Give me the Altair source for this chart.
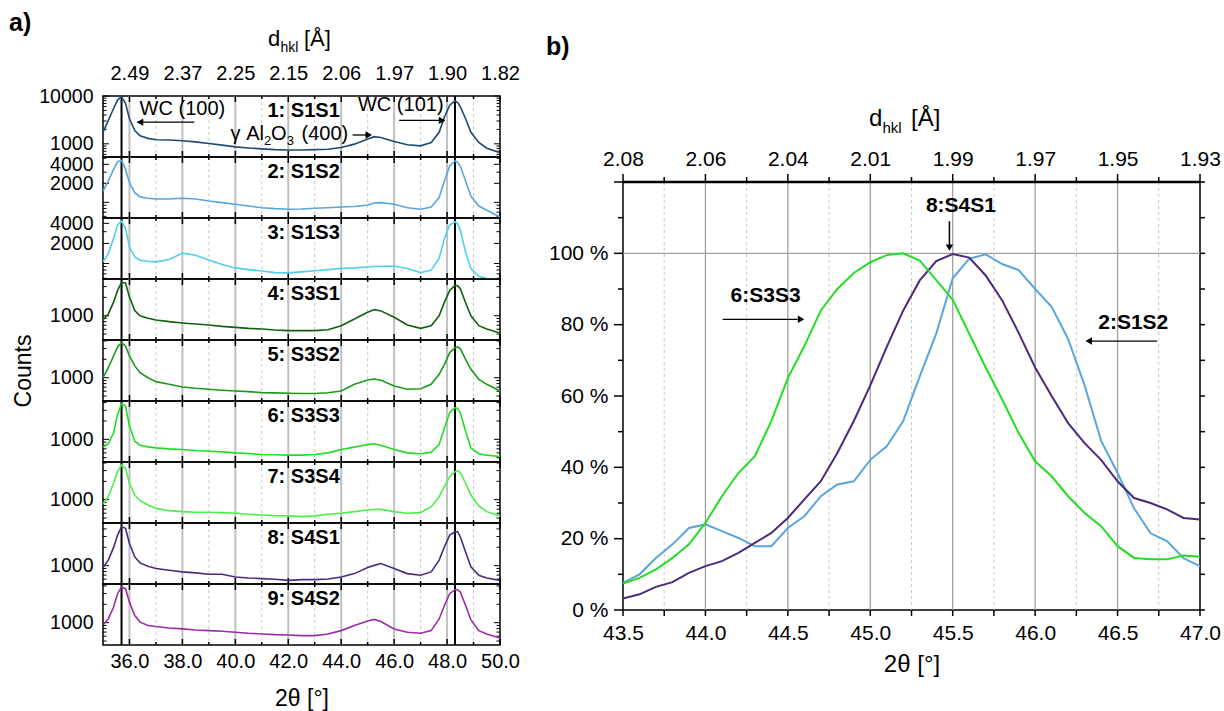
import altair as alt
import pandas as pd

FONT = "Liberation Sans"

# ---------------- panel a: nine stacked diffractograms ----------------
TWO_THETA_A = [35.0, 35.2, 35.4, 35.55, 35.7, 35.85, 36.0, 36.2, 36.4, 36.7,
               37.0, 37.5, 38.0, 38.5, 39.0, 39.5, 40.0, 40.5, 41.0, 41.5,
               42.0, 42.5, 43.0, 43.5, 44.0, 44.5, 45.0, 45.25, 45.5, 46.0,
               46.5, 47.0, 47.4, 47.7, 47.9, 48.1, 48.3, 48.4, 48.5, 48.7,
               48.9, 49.2, 49.5, 50.0]

S1S1 = [1740, 3090, 5470, 8220, 9660, 7000, 3350, 1890, 1480, 1300,
        1220, 1200, 1160, 1100, 1015, 940, 863, 820, 783, 757,
        745, 745, 757, 770, 835, 985, 1260, 1410, 1360, 1120,
        953, 906, 1065, 1740, 3630, 6430, 7940, 7300, 6000, 3350,
        1740, 1065, 810, 653]
S1S2 = [1510, 2170, 3330, 4400, 4600, 3330, 2050, 1420, 1220, 1160,
        1130, 1130, 1160, 1130, 1050, 990, 930, 875, 823, 794,
        776, 785, 805, 823, 844, 860, 907, 975, 990, 930,
        823, 776, 844, 1190, 2170, 3760, 4510, 4300, 3760, 2170,
        1260, 875, 748, 587]
S1S3 = [1060, 1410, 2380, 3770, 4330, 3360, 1780, 1260, 1120, 1080,
        1060, 1150, 1430, 1330, 1130, 966, 859, 811, 774, 731,
        724, 750, 780, 811, 840, 859, 889, 900, 905, 920,
        840, 731, 795, 1190, 2380, 3770, 4230, 3900, 3170, 1490,
        840, 643, 594, 590]
S3S1 = [864, 1070, 1670, 2600, 3500, 3450, 2020, 1220, 1000, 908,
        853, 800, 762, 733, 705, 670, 645, 621, 605, 583,
        569, 569, 569, 590, 687, 885, 1140, 1260, 1200, 944,
        705, 621, 687, 1000, 1670, 2600, 3150, 3100, 2770, 1630,
        1000, 687, 605, 520]
S3S2 = [1000, 1460, 2270, 3190, 3750, 3310, 2270, 1560, 1210, 1000,
        862, 779, 705, 670, 645, 622, 606, 591, 570, 565,
        555, 550, 550, 565, 606, 779, 917, 953, 907, 732,
        645, 660, 779, 1135, 1660, 2580, 3110, 3190, 3000, 2000,
        1370, 940, 779, 606]
S3S3 = [745, 846, 1280, 2560, 3840, 3510, 1650, 932, 800, 752,
        724, 697, 680, 655, 639, 623, 600, 585, 564, 558,
        550, 550, 564, 600, 680, 745, 820, 846, 800, 680,
        600, 581, 613, 820, 1540, 2730, 3300, 3220, 2730, 1360,
        724, 581, 550, 523]
S3S4 = [851, 1120, 1860, 2880, 3710, 3270, 1860, 1190, 962, 817,
        721, 661, 637, 621, 621, 613, 598, 576, 562, 548,
        543, 528, 543, 576, 598, 637, 678, 690, 695, 637,
        598, 613, 770, 1120, 1640, 2390, 2880, 3000, 2780, 1860,
        1190, 790, 637, 543]
S4S1 = [929, 1230, 1990, 3170, 4350, 4080, 2310, 1390, 1110, 978,
        895, 840, 789, 760, 722, 722, 652, 628, 613, 597,
        574, 590, 590, 605, 652, 740, 929, 1010, 1080, 895,
        740, 695, 789, 1230, 2040, 3170, 3600, 3600, 2980, 1680,
        955, 695, 628, 574]
S4S2 = [929, 1150, 1800, 2980, 3840, 3600, 2170, 1310, 1020, 897,
        862, 819, 789, 759, 740, 721, 695, 669, 652, 636,
        628, 613, 613, 652, 740, 897, 1060, 1130, 1040, 789,
        695, 669, 740, 1150, 1910, 2980, 3470, 3470, 3170, 1910,
        1110, 740, 652, 560]

SERIES_A = [S1S1, S1S2, S1S3, S3S1, S3S2, S3S3, S3S4, S4S1, S4S2]
LABELS_A = ["1: S1S1", "2: S1S2", "3: S1S3", "4: S3S1", "5: S3S2",
            "6: S3S3", "7: S3S4", "8: S4S1", "9: S4S2"]
COLORS_A = ["#1f4a72", "#5aa6dc", "#4fd0ea", "#0e620e", "#1c9a1c",
            "#22dd22", "#4cf04c", "#4b2a7e", "#9a2ca8"]
Y_DOMAINS_A = [[530, 10000], [565, 5220], [586, 4810], [400, 4000], [415, 4150],
               [425, 4250], [415, 4150], [500, 5000], [430, 4300]]
Y_LABELS_A = [[1000, 10000], [2000, 4000], [2000, 4000], [1000], [1000],
              [1000], [1000], [1000], [1000]]

X_TICKS_A = [36, 38, 40, 42, 44, 46, 48, 50]
D_LABELS_A = ["2.49", "2.37", "2.25", "2.15", "2.06", "1.97", "1.90", "1.82"]
GRID_MAJOR_A = [36, 38, 40, 42, 44, 46, 48]
GRID_MINOR_A = [37, 39, 41, 43, 45, 47, 49]
WC_PEAKS = [35.7, 48.3]
ROW_LABEL_X = 42.58

W_A = 397
H_A = 61


def label_lookup(values, labels):
    vals = ",".join(str(v) for v in values)
    labs = ",".join("'" + s + "'" for s in labels)
    return "[" + labs + "][indexof([" + vals + "], datum.value)]"


def log_ticks(lo, hi):
    return [m * 10 ** e for e in (2, 3, 4) for m in range(1, 10) if lo <= m * 10 ** e <= hi]


class Enc:
    """Position encodings of one view; every layer reuses the same axis objects."""

    def __init__(self, xs, ys, x_axis, y_axis):
        self.xs, self.ys, self.x_axis, self.y_axis = xs, ys, x_axis, y_axis

    def x(self, name, axis="same"):
        return alt.X(name + ":Q", scale=self.xs, axis=self.x_axis if axis == "same" else axis)

    def y(self, name):
        return alt.Y(name + ":Q", scale=self.ys, axis=self.y_axis)


def arrow(enc, x0, x1, y, shape, head_x):
    seg = alt.Chart(pd.DataFrame({"a": [x0], "b": [x1], "y": [y]})).mark_rule(
        color="black", strokeWidth=1.3
    ).encode(x=enc.x("a"), x2="b:Q", y=enc.y("y"))
    head = alt.Chart(pd.DataFrame({"a": [head_x], "y": [y]})).mark_point(
        shape=shape, filled=True, size=55, color="black", opacity=1
    ).encode(x=enc.x("a"), y=enc.y("y"))
    return [seg, head]


def text_at(enc, tt, yv, txt, size, bold=False, align="center", dy=0):
    return alt.Chart(pd.DataFrame({"a": [tt], "y": [yv], "t": [txt]})).mark_text(
        font=FONT, fontSize=size, fontWeight="bold" if bold else "normal",
        align=align, dy=dy, color="black"
    ).encode(x=enc.x("a"), y=enc.y("y"), text="t:N")


def pixel_text(txt, px, py, size, bold=False):
    return alt.Chart(pd.DataFrame({"t": [txt]})).mark_text(
        font=FONT, fontSize=size, fontWeight="bold" if bold else "normal",
        align="left", color="black"
    ).encode(x=alt.value(px), y=alt.value(py), text="t:N")


def row_panel(i):
    lo, hi = Y_DOMAINS_A[i]
    xs = alt.Scale(domain=[35, 50], nice=False, zero=False)
    ys = alt.Scale(type="log", domain=[lo, hi], nice=False)

    common = dict(ticks=False, tickSize=0, domain=False, grid=False,
                  labelOverlap=False, labelFlush=False)
    if i == 0:
        x_axis = alt.Axis(orient="top", values=X_TICKS_A,
                          labelExpr=label_lookup(X_TICKS_A, D_LABELS_A),
                          labelFontSize=20, labelPadding=13, title=None, **common)
    elif i == 8:
        x_axis = alt.Axis(orient="bottom", values=X_TICKS_A, format=".1f",
                          labelFontSize=20, labelPadding=6, title="2θ [°]",
                          titleFontSize=23, titlePadding=16, **common)
    else:
        x_axis = None

    y_axis = alt.Axis(values=Y_LABELS_A[i], format="d", labelFontSize=19.5, labelPadding=10,
                      title="Counts" if i == 4 else None,
                      titleFontSize=23, titlePadding=14, **common)
    enc = Enc(xs, ys, x_axis, y_axis)

    layers = []
    layers.append(alt.Chart(pd.DataFrame({"tt": GRID_MINOR_A})).mark_rule(
        color="#c8c8c8", strokeWidth=1, strokeDash=[3, 3]).encode(x=enc.x("tt")))
    layers.append(alt.Chart(pd.DataFrame({"tt": GRID_MAJOR_A})).mark_rule(
        color="#c0c0c0", strokeWidth=2).encode(x=enc.x("tt")))
    layers.append(alt.Chart(pd.DataFrame({"tt": WC_PEAKS})).mark_rule(
        color="black", strokeWidth=2).encode(x=enc.x("tt")))

    # inward ticks on the top and bottom frame lines
    major = pd.DataFrame({"tt": X_TICKS_A})
    minor = pd.DataFrame({"tt": GRID_MINOR_A})
    for df, ln in ((major, 6), (minor, 3)):
        layers.append(alt.Chart(df).mark_rule(color="black", strokeWidth=1.5).encode(
            x=enc.x("tt"), y=alt.value(0), y2=alt.value(ln)))
        layers.append(alt.Chart(df).mark_rule(color="black", strokeWidth=1.5).encode(
            x=enc.x("tt"), y=alt.value(H_A - ln), y2=alt.value(H_A)))

    # inward log ticks on both side frame lines
    yt = log_ticks(lo, hi)
    ymajor = [v for v in yt if v in Y_LABELS_A[i] or v in (1000, 10000)]
    yminor = [v for v in yt if v not in ymajor]
    for vals, ln in ((ymajor, 6), (yminor, 3.5)):
        if not vals:
            continue
        df = pd.DataFrame({"v": vals})
        layers.append(alt.Chart(df).mark_rule(color="black", strokeWidth=1).encode(
            y=enc.y("v"), x=alt.value(0), x2=alt.value(ln)))
        layers.append(alt.Chart(df).mark_rule(color="black", strokeWidth=1).encode(
            y=enc.y("v"), x=alt.value(W_A - ln), x2=alt.value(W_A)))

    curve = pd.DataFrame({"tt": TWO_THETA_A, "counts": SERIES_A[i]})
    layers.append(alt.Chart(curve).mark_line(
        color=COLORS_A[i], strokeWidth=1.6, clip=True
    ).encode(x=enc.x("tt"), y=enc.y("counts")))

    layers.append(alt.Chart(pd.DataFrame({"tt": [ROW_LABEL_X], "t": [LABELS_A[i]]})).mark_text(
        font=FONT, fontSize=20, fontWeight="bold", color="black"
    ).encode(x=enc.x("tt"), y=alt.value(15), text="t:N"))

    if i == 0:
        layers.append(text_at(enc, 38.0, 5470, "WC (100)", 20))
        layers += arrow(enc, 38.45, 36.3, 2840, "triangle-left", 36.4)
        layers.append(text_at(enc, 46.25, 6430, "WC (101)", 20))
        layers += arrow(enc, 46.19, 47.9, 3090, "triangle-right", 47.81)
        layers.append(text_at(enc, 39.82, 1607, "γ Al", 20, align="left"))
        layers.append(text_at(enc, 41.08, 1607, "2", 13, align="left", dy=7))
        layers.append(text_at(enc, 41.35, 1607, "O", 20, align="left"))
        layers.append(text_at(enc, 41.94, 1607, "3", 13, align="left", dy=7))
        layers.append(text_at(enc, 42.5, 1607, "(400)", 20, align="left"))
        layers += arrow(enc, 44.43, 45.1, 1530, "triangle-right", 45.04)
        layers.append(pixel_text("a)", -94, -73, 25, bold=True))
        layers.append(pixel_text("d", 165, -57, 22))
        layers.append(pixel_text("hkl", 177.5, -48, 14))
        layers.append(pixel_text("[Å]", 201, -57, 22))

    return alt.layer(*layers).properties(width=W_A, height=H_A)


rows = [row_panel(i) for i in range(9)]
panel_a = alt.vconcat(*rows, spacing=0, bounds="flush")

# ---------------- panel b: normalised γ-Al2O3 (400) reflection ----------------
TWO_THETA_B = [43.5, 43.6, 43.7, 43.8, 43.9, 44.0, 44.1, 44.2, 44.3, 44.4,
               44.5, 44.6, 44.7, 44.8, 44.9, 45.0, 45.1, 45.2, 45.3, 45.4,
               45.5, 45.6, 45.7, 45.8, 45.9, 46.0, 46.1, 46.2, 46.3, 46.4,
               46.5, 46.6, 46.7, 46.8, 46.9, 47.0]
S3S3_PCT = [7.4, 9.0, 11.4, 14.6, 18.4, 24.4, 31.9, 38.4, 43.1, 53.0,
            65.0, 74.0, 84.0, 90.0, 94.5, 97.5, 99.5, 100.0, 98.0, 92.5,
            87.0, 77.5, 68.0, 59.0, 49.6, 41.7, 37.5, 31.9, 27.2, 23.5,
            17.9, 14.6, 14.2, 14.2, 15.3, 14.9]
S4S1_PCT = [3.2, 4.4, 6.5, 7.8, 10.4, 12.3, 13.7, 16.0, 18.8, 21.6,
            25.8, 31.0, 36.1, 44.0, 53.0, 63.0, 73.8, 84.0, 92.4, 97.8,
            99.8, 98.8, 93.8, 86.8, 77.7, 68.0, 60.0, 52.4, 46.8, 42.1,
            36.1, 31.4, 30.0, 28.2, 25.8, 25.4]
S1S2_PCT = [7.6, 10.0, 14.6, 18.4, 23.0, 24.0, 22.1, 20.2, 17.9, 17.9,
            23.0, 26.3, 31.9, 35.2, 36.1, 42.1, 45.9, 53.0, 65.5, 77.5,
            93.0, 98.5, 99.7, 97.0, 95.3, 90.0, 85.0, 76.0, 63.0, 47.5,
            38.4, 28.5, 21.5, 19.3, 14.5, 12.3]

SERIES_B = [S1S2_PCT, S4S1_PCT, S3S3_PCT]
COLORS_B = ["#5aa6dc", "#4b2a7e", "#22dd22"]

X_TICKS_B = [43.5, 44.0, 44.5, 45.0, 45.5, 46.0, 46.5, 47.0]
X_MINOR_B = [43.75, 44.25, 44.75, 45.25, 45.75, 46.25, 46.75]
D_LABELS_B = ["2.08", "2.06", "2.04", "2.01", "1.99", "1.97", "1.95", "1.93"]
GRID_MAJOR_B = [44.0, 44.5, 45.0, 45.5, 46.0, 46.5]
Y_TICKS_B = [0, 20, 40, 60, 80, 100]
Y_ALL_MAJOR_B = [0, 20, 40, 60, 80, 100, 120]
Y_MINOR_B = [10, 30, 50, 70, 90, 110]

W_B = 577
H_B = 428

xs_b = alt.Scale(domain=[43.5, 47.0], nice=False, zero=False)
ys_b = alt.Scale(domain=[0, 120], nice=False, zero=True)

common_b = dict(ticks=False, tickSize=0, domain=False, grid=False,
                labelFontSize=21, labelOverlap=False, labelFlush=False)
bottom_axis_b = alt.Axis(values=X_TICKS_B, format=".1f", labelPadding=12,
                         title="2θ [°]", titleFontSize=24, titlePadding=9, **common_b)
top_axis_b = alt.Axis(orient="top", values=X_TICKS_B,
                      labelExpr=label_lookup(X_TICKS_B, D_LABELS_B),
                      labelPadding=13, title=None, **common_b)
left_axis_b = alt.Axis(values=Y_TICKS_B, labelExpr="datum.value + ' %'",
                       labelPadding=15, title=None, **common_b)

# x axes are resolved independently (top and bottom); only two layers carry one
enc_b = Enc(xs_b, ys_b, None, left_axis_b)

b_layers = []
b_layers.append(alt.Chart(pd.DataFrame({"tt": X_MINOR_B})).mark_rule(
    color="#c8c8c8", strokeWidth=1, strokeDash=[3, 3]).encode(x=enc_b.x("tt")))
b_layers.append(alt.Chart(pd.DataFrame({"tt": GRID_MAJOR_B})).mark_rule(
    color="#a0a0a0", strokeWidth=1.3).encode(x=enc_b.x("tt")))
b_layers.append(alt.Chart(pd.DataFrame({"v": [100]})).mark_rule(
    color="#a0a0a0", strokeWidth=1.3).encode(y=enc_b.y("v")))

# outward ticks around the frame
b_layers.append(alt.Chart(pd.DataFrame({"tt": X_TICKS_B})).mark_rule(
    color="black", strokeWidth=1.5).encode(x=enc_b.x("tt", top_axis_b), y=alt.value(-8), y2=alt.value(0)))
b_layers.append(alt.Chart(pd.DataFrame({"tt": X_MINOR_B})).mark_rule(
    color="black", strokeWidth=1.5).encode(x=enc_b.x("tt"), y=alt.value(-5), y2=alt.value(0)))
b_layers.append(alt.Chart(pd.DataFrame({"tt": X_TICKS_B + X_MINOR_B})).mark_rule(
    color="black", strokeWidth=1.5).encode(x=enc_b.x("tt"), y=alt.value(H_B), y2=alt.value(H_B + 6)))
b_layers.append(alt.Chart(pd.DataFrame({"v": Y_ALL_MAJOR_B})).mark_rule(
    color="black", strokeWidth=1.5).encode(y=enc_b.y("v"), x=alt.value(-9), x2=alt.value(0)))
b_layers.append(alt.Chart(pd.DataFrame({"v": Y_MINOR_B})).mark_rule(
    color="black", strokeWidth=1.5).encode(y=enc_b.y("v"), x=alt.value(-5), x2=alt.value(0)))
b_layers.append(alt.Chart(pd.DataFrame({"v": Y_ALL_MAJOR_B + Y_MINOR_B})).mark_rule(
    color="black", strokeWidth=1.5).encode(y=enc_b.y("v"), x=alt.value(W_B), x2=alt.value(W_B + 5)))
# heavier top frame line
b_layers.append(alt.Chart(pd.DataFrame({"v": [120]})).mark_rule(
    color="black", strokeWidth=2.5).encode(y=enc_b.y("v")))

for k, (vals, col) in enumerate(zip(SERIES_B, COLORS_B)):
    df = pd.DataFrame({"tt": TWO_THETA_B, "pct": vals})
    b_layers.append(alt.Chart(df).mark_line(color=col, strokeWidth=2, clip=True).encode(
        x=enc_b.x("tt", bottom_axis_b if k == 0 else None), y=enc_b.y("pct")))

b_layers.append(text_at(enc_b, 45.55, 113.4, "8:S4S1", 21, bold=True))
b_layers.append(alt.Chart(pd.DataFrame({"a": [45.48], "y": [109.0], "y2": [102.0]})).mark_rule(
    color="black", strokeWidth=1.5).encode(x=enc_b.x("a"), y=enc_b.y("y"), y2="y2:Q"))
b_layers.append(alt.Chart(pd.DataFrame({"a": [45.48], "y": [101.6]})).mark_point(
    shape="triangle-down", filled=True, size=55, color="black", opacity=1
).encode(x=enc_b.x("a"), y=enc_b.y("y")))
b_layers.append(text_at(enc_b, 44.365, 88.0, "6:S3S3", 21, bold=True))
b_layers += arrow(enc_b, 44.105, 44.56, 81.5, "triangle-right", 44.58)
b_layers.append(text_at(enc_b, 46.595, 80.4, "2:S1S2", 21, bold=True))
b_layers += arrow(enc_b, 46.74, 46.34, 75.4, "triangle-left", 46.325)
b_layers.append(pixel_text("b)", -77, -135, 25, bold=True))
b_layers.append(pixel_text("d", 246, -63, 24))
b_layers.append(pixel_text("hkl", 259.5, -54, 15))
b_layers.append(pixel_text("[Å]", 288, -63, 24))

panel_b = alt.layer(*b_layers).resolve_axis(x="independent").properties(width=W_B, height=H_B)

spacer = alt.Chart(pd.DataFrame({"v": [0]})).mark_rule(strokeOpacity=0).encode(
    x=alt.value(0), y=alt.value(0), y2=alt.value(1)
).properties(width=W_B, height=86, view=alt.ViewBackground(stroke="transparent"))

right = alt.vconcat(spacer, panel_b, spacing=0, bounds="flush")

chart = alt.hconcat(panel_a, right, spacing=24).properties(
    padding={"left": 8, "top": 10, "right": 0, "bottom": 0}
).configure_view(
    stroke="black", strokeWidth=1.5
).configure_axis(
    labelFont=FONT, titleFont=FONT, labelColor="black", titleColor="black",
    titleFontWeight="normal"
).configure_text(font=FONT)

chart.save("out.html", embed_options={"renderer": "svg", "actions": False})
